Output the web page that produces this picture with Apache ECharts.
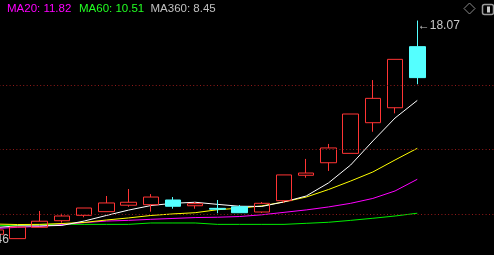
<!DOCTYPE html>
<html>
<head>
<meta charset="utf-8">
<style>
html,body{margin:0;padding:0;background:#000;overflow:hidden;width:494px;height:255px;}
#wrap{position:relative;width:494px;height:255px;overflow:hidden;}
#chart{position:absolute;left:-38px;top:0;width:533px;height:255px;}
</style>
<script src="https://cdn.jsdelivr.net/npm/echarts@6/dist/echarts.min.js"></script>
</head>
<body>
<div id="wrap"><div id="chart"></div></div>
<script>
// ---- data ----
const categories = ['d0','d1','d2','d3','d4','d5','d6','d7','d8','d9','d10','d11','d12','d13','d14','d15','d16','d17','d18','d19','d20','p1','p2','p3'];
const opens  = [5.62, 5.79, 5.54, 6.19, 6.57, 6.88, 7.09, 7.46, 7.49, 7.76, 7.43, 7.28, 7.37, 7.07, 7.72, 9.18, 9.90, 10.44, 12.20, 13.06, 16.57];
const closes = [5.75, 6.04, 6.21, 6.54, 6.84, 7.30, 7.59, 7.63, 7.93, 7.40, 7.55, 7.23, 7.03, 7.57, 9.20, 9.31, 10.75, 12.70, 13.60, 15.84, 14.79];
const lows   = [5.46, 5.70, 5.54, 6.19, 6.46, 6.77, 7.09, 7.37, 7.09, 7.26, 7.26, 7.00, 7.03, 7.01, 7.59, 9.04, 9.43, 10.44, 11.68, 12.74, 14.41];
const highs  = [5.90, 6.10, 6.21, 7.13, 6.97, 7.30, 7.99, 8.39, 8.10, 7.93, 7.64, 7.76, 7.47, 7.64, 9.20, 10.12, 10.98, 12.70, 14.65, 15.84, 18.07];
const ma5    = [6.15, 6.18, 6.27, 6.27, 6.30, 6.55, 6.87, 7.18, 7.44, 7.57, 7.63, 7.51, 7.40, 7.39, 7.65, 7.99, 8.74, 9.77, 11.15, 12.47, 13.48];
const ma10   = [6.38, 6.38, 6.35, 6.36, 6.41, 6.47, 6.61, 6.73, 6.87, 6.96, 7.03, 7.20, 7.29, 7.42, 7.65, 7.93, 8.36, 8.85, 9.37, 10.06, 10.73];
const ma20   = [6.09, 6.12, 6.19, 6.24, 6.35, 6.46, 6.55, 6.59, 6.65, 6.70, 6.75, 6.77, 6.81, 6.91, 7.05, 7.19, 7.36, 7.57, 7.85, 8.28, 8.95];
const ma60   = [6.30, 6.30, 6.30, 6.34, 6.36, 6.36, 6.36, 6.36, 6.44, 6.44, 6.44, 6.36, 6.36, 6.36, 6.36, 6.42, 6.48, 6.59, 6.71, 6.84, 7.00];
const guideLevels = [14.37, 10.66, 6.96];
const legendNames  = ['MA20', 'MA60', 'MA360'];
const legendValues = ['11.82', '10.51', '8.45'];

// ---- build ----
const ohlc = opens.map((o, i) => [o, closes[i], lows[i], highs[i]]);
const RED = '#ff3434', CYAN = '#54ffff';
const FONT = '"Liberation Sans", Arial, "DejaVu Sans", sans-serif';
const legendColors = ['#ff00ff', '#22ff22', '#c0c0c0'];
const SHIFT = 38; // chart canvas starts 38px left of the window
const legendX = [7, 79, 150.5];

const chart = echarts.init(document.getElementById('chart'), null, {renderer: 'canvas'});

function line(name, data, color, extra) {
  return Object.assign({
    name, type: 'line', data, symbol: 'none', smooth: false, z: 2,
    lineStyle: {color, width: 1}, itemStyle: {color}, silent: true
  }, extra || {});
}

chart.setOption({
  animation: false,
  backgroundColor: '#000',
  grid: {left: 0, right: 0, top: 0, bottom: 0, containLabel: false},
  xAxis: {type: 'category', data: categories, boundaryGap: true, show: false},
  yAxis: {type: 'value', min: 4.6, max: 19.25, show: false, splitLine: {show: false}, scale: true},
  graphic: [
    ...legendNames.map((n, i) => ({
      type: 'text', x: legendX[i] + SHIFT, y: 8.4,
      style: {text: n + ': ' + legendValues[i], fill: legendColors[i], font: '11.5px ' + FONT, textVerticalAlign: 'middle'}
    })),
    {type: 'polygon', shape: {points: [[469.5 + SHIFT, 3], [475 + SHIFT, 8.5], [469.5 + SHIFT, 14], [464 + SHIFT, 8.5]]},
     style: {fill: 'none', stroke: '#8a8a8a', lineWidth: 1}},
    {type: 'rect', shape: {x: 482.5 + SHIFT, y: 4.5, width: 11, height: 10, r: 2},
     style: {fill: 'none', stroke: '#9a9a9a', lineWidth: 1.5}},
    {type: 'rect', shape: {x: 487 + SHIFT, y: 6.5, width: 3, height: 6},
     style: {fill: '#c8c8c8'}}
  ],
  series: [
    line('MA60', ma60, '#00ee00', {
      markLine: {
        silent: true, symbol: 'none', label: {show: false},
        lineStyle: {color: '#921a1a', width: 1, type: [1, 2.4]},
        data: guideLevels.map(v => ({yAxis: v}))
      }
    }),
    line('MA20', ma20, '#ff00ff'),
    line('MA10', ma10, '#ffff00'),
    line('MA5', ma5, '#ffffff'),
    {
      name: 'K', type: 'candlestick', data: ohlc, z: 3, barWidth: 16,
      itemStyle: {color: 'rgba(0,0,0,0)', color0: CYAN, borderColor: RED, borderColor0: CYAN, borderWidth: 1},
      markPoint: {
        symbol: 'circle', symbolSize: 1, itemStyle: {color: 'rgba(0,0,0,0)'},
        label: {
          show: true, position: 'right', distance: 0, offset: [0, 5],
          color: '#c8c8c8', fontSize: 12, fontFamily: FONT,
          formatter: p => '\u2190' + Number(p.value).toFixed(2)
        },
        data: [
          {type: 'max', valueDim: 'highest'},
          {type: 'min', valueDim: 'lowest', label: {offset: [0, 0]}}
        ]
      }
    }
  ]
});
</script>
</body>
</html>
